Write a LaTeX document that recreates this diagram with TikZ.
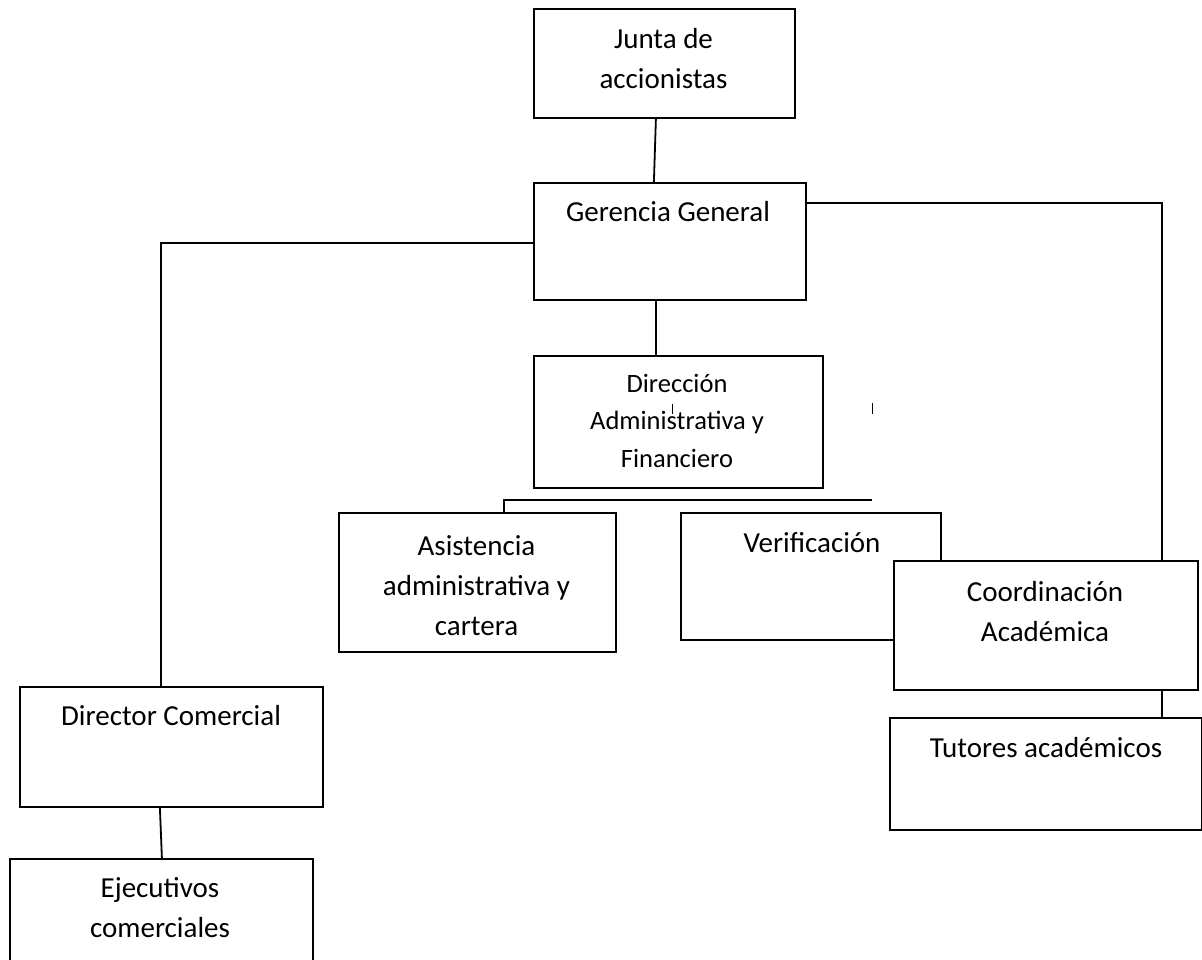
\documentclass[tikz,border=0pt]{standalone}
\usepackage{fontspec}
\setmainfont{Carlito}
\begin{document}
\begin{tikzpicture}[x=1pt,y=-1pt,
  box/.style={draw=black, fill=white, line width=1.8pt, anchor=north west, inner sep=0pt},
  big/.style={anchor=base, inner sep=0pt, align=center, font=\fontsize{29}{40}\selectfont},
  small/.style={anchor=base, inner sep=0pt, align=center, font=\fontsize{26.5}{37.5}\selectfont},
  conn/.style={draw=black, line width=1.8pt},
  tick/.style={draw=black, line width=1pt}]
\useasboundingbox (0,0) rectangle (1202,960);
% boxes (text anchored at the baseline of its last line)
\node[box, minimum width=261pt, minimum height=109pt] (j) at (533,8) {};
\node[big] (jt) at (663.5,89) {Junta de\\accionistas};
\node[box, minimum width=272pt, minimum height=117pt] (g) at (533,182) {};
\node[big] (gt) at (668,222) {Gerencia General};
\node[box, minimum width=289pt, minimum height=132pt] (d) at (533,355) {};
\node[small] (dt) at (677,467) {Dirección\\Administrativa y\\Financiero};
\node[box, minimum width=277pt, minimum height=139pt] (a) at (338,512) {};
\node[big] (at) at (476.5,635) {Asistencia\\administrativa y\\cartera};
\node[box, minimum width=260pt, minimum height=127pt] (v) at (680,512) {};
\node[big] (vt) at (812,552) {Verificación};
\node[box, minimum width=304pt, minimum height=129pt] (c) at (893,560) {};
\node[big] (ct) at (1045,641) {Coordinación\\Académica};
\node[box, minimum width=312pt, minimum height=112pt] (t) at (889,717) {};
\node[big] (tt) at (1046,757) {Tutores académicos};
\node[box, minimum width=303pt, minimum height=120pt] (dc) at (19,686) {};
\node[big] (dct) at (171,725) {Director Comercial};
\node[box, minimum width=303pt, minimum height=120pt] (e) at (9,858) {};
\node[big] (et) at (160,937) {Ejecutivos\\comerciales};
% connectors
\draw[conn] ([xshift=-8.5pt]j.south) -- ([xshift=-16pt]g.north);
\draw[conn] ([yshift=-2pt]g.west) -| ([xshift=-10.5pt]dc.north);
\draw[conn] ([yshift=38.5pt]g.east) -| ([xshift=116pt]c.north);
\draw[conn] ([xshift=-14pt]g.south) -- ([xshift=-22.5pt]d.north);
\coordinate (hr) at (872,500);
\draw[conn] ([xshift=26.5pt]a.north) -- ++(0,-12) -- (hr);
\draw[conn] ([xshift=116pt]c.south) -- ([xshift=116pt]t.north);
\draw[conn] ([xshift=-11.5pt]dc.south) -- ([xshift=0.5pt]e.north);
% stray marks
\draw[tick] (672,404) -- (672,414);
\draw[tick] (872,403) -- (872,414);
\end{tikzpicture}
\end{document}
